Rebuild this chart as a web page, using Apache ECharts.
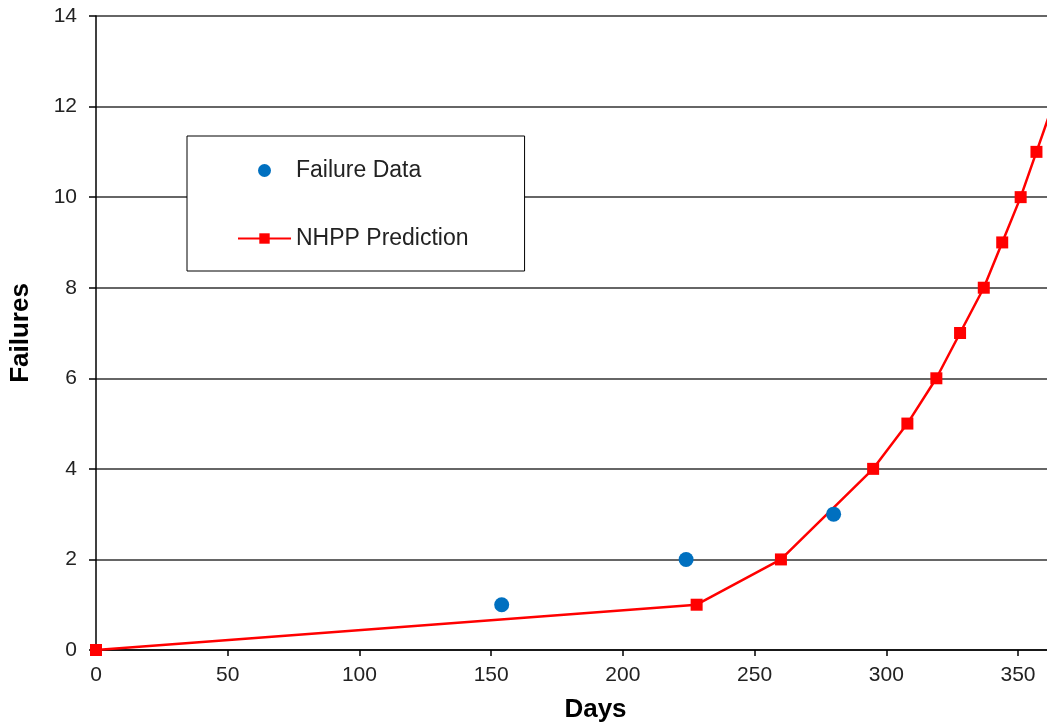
<!DOCTYPE html>
<html>
<head>
<meta charset="utf-8">
<script src="https://cdn.jsdelivr.net/npm/echarts@6/dist/echarts.min.js"></script>
<style>
  html, body { margin: 0; padding: 0; background: #fff; }
  #chart { width: 1047px; height: 728px; }
</style>
</head>
<body>
<div id="chart"></div>
<script>
// Observed failures: [day, cumulative failures]
const failureData = [[154, 1], [224, 2], [280, 3]];
// NHPP model prediction: [day, predicted cumulative failures]
const nhppPrediction = [
  [0, 0], [228, 1], [260, 2], [295, 4], [308, 5], [319, 6],
  [328, 7], [337, 8], [344, 9], [351, 10], [357, 11], [363, 12]
];
const seriesNames = ['Failure Data', 'NHPP Prediction'];
const xAxisTitle = 'Days';
const yAxisTitle = 'Failures';

const font = '"Liberation Sans", Arial, sans-serif';
const chart = echarts.init(document.getElementById('chart'), null, { renderer: 'canvas' });

chart.setOption({
  animation: false,
  backgroundColor: '#ffffff',
  textStyle: { fontFamily: font },
  grid: { left: 95, right: 0, top: 16, bottom: 76, containLabel: false },
  legend: {
    data: seriesNames,
    orient: 'vertical',
    left: 187,
    top: 136,
    padding: [23, 56, 21, 50],
    itemGap: 45,
    itemWidth: 53,
    itemHeight: 13,
    backgroundColor: '#ffffff',
    borderColor: '#000000',
    borderWidth: 1,
    textStyle: { fontFamily: font, fontSize: 23, color: '#222' }
  },
  xAxis: {
    type: 'value',
    min: 0,
    max: 361,
    interval: 50,
    name: xAxisTitle,
    nameLocation: 'middle',
    nameGap: 47,
    nameTextStyle: { fontFamily: font, fontSize: 26, fontWeight: 'bold', color: '#000', padding: [0, 0, 0, 48] },
    axisLine: { lineStyle: { color: '#000', width: 1.5 } },
    axisTick: { show: true, inside: false, length: 6, lineStyle: { color: '#000', width: 1.5 } },
    axisLabel: { fontFamily: font, fontSize: 21, color: '#222', margin: 15 },
    splitLine: { show: false }
  },
  yAxis: {
    type: 'value',
    min: 0,
    max: 14,
    interval: 2,
    name: yAxisTitle,
    nameLocation: 'middle',
    nameGap: 62,
    nameRotate: 90,
    nameTextStyle: { fontFamily: font, fontSize: 26, fontWeight: 'bold', color: '#000' },
    axisLine: { show: true, lineStyle: { color: '#000', width: 1.5 } },
    axisTick: { show: true, inside: false, length: 7, lineStyle: { color: '#000', width: 1.5 } },
    axisLabel: { fontFamily: font, fontSize: 21, color: '#222', margin: 19 },
    splitLine: { show: true, lineStyle: { color: '#333', width: 1.5 } }
  },
  series: [
    {
      name: 'NHPP Prediction',
      type: 'line',
      data: nhppPrediction,
      symbol: 'rect',
      symbolSize: 12,
      showAllSymbol: true,
      clip: true,
      lineStyle: { color: '#ff0000', width: 2.5 },
      itemStyle: { color: '#ff0000' },
      z: 2
    },
    {
      name: 'Failure Data',
      type: 'scatter',
      data: failureData,
      symbol: 'circle',
      symbolSize: 15,
      itemStyle: { color: '#0070c0', opacity: 1 },
      z: 3
    }
  ]
});
</script>
</body>
</html>
